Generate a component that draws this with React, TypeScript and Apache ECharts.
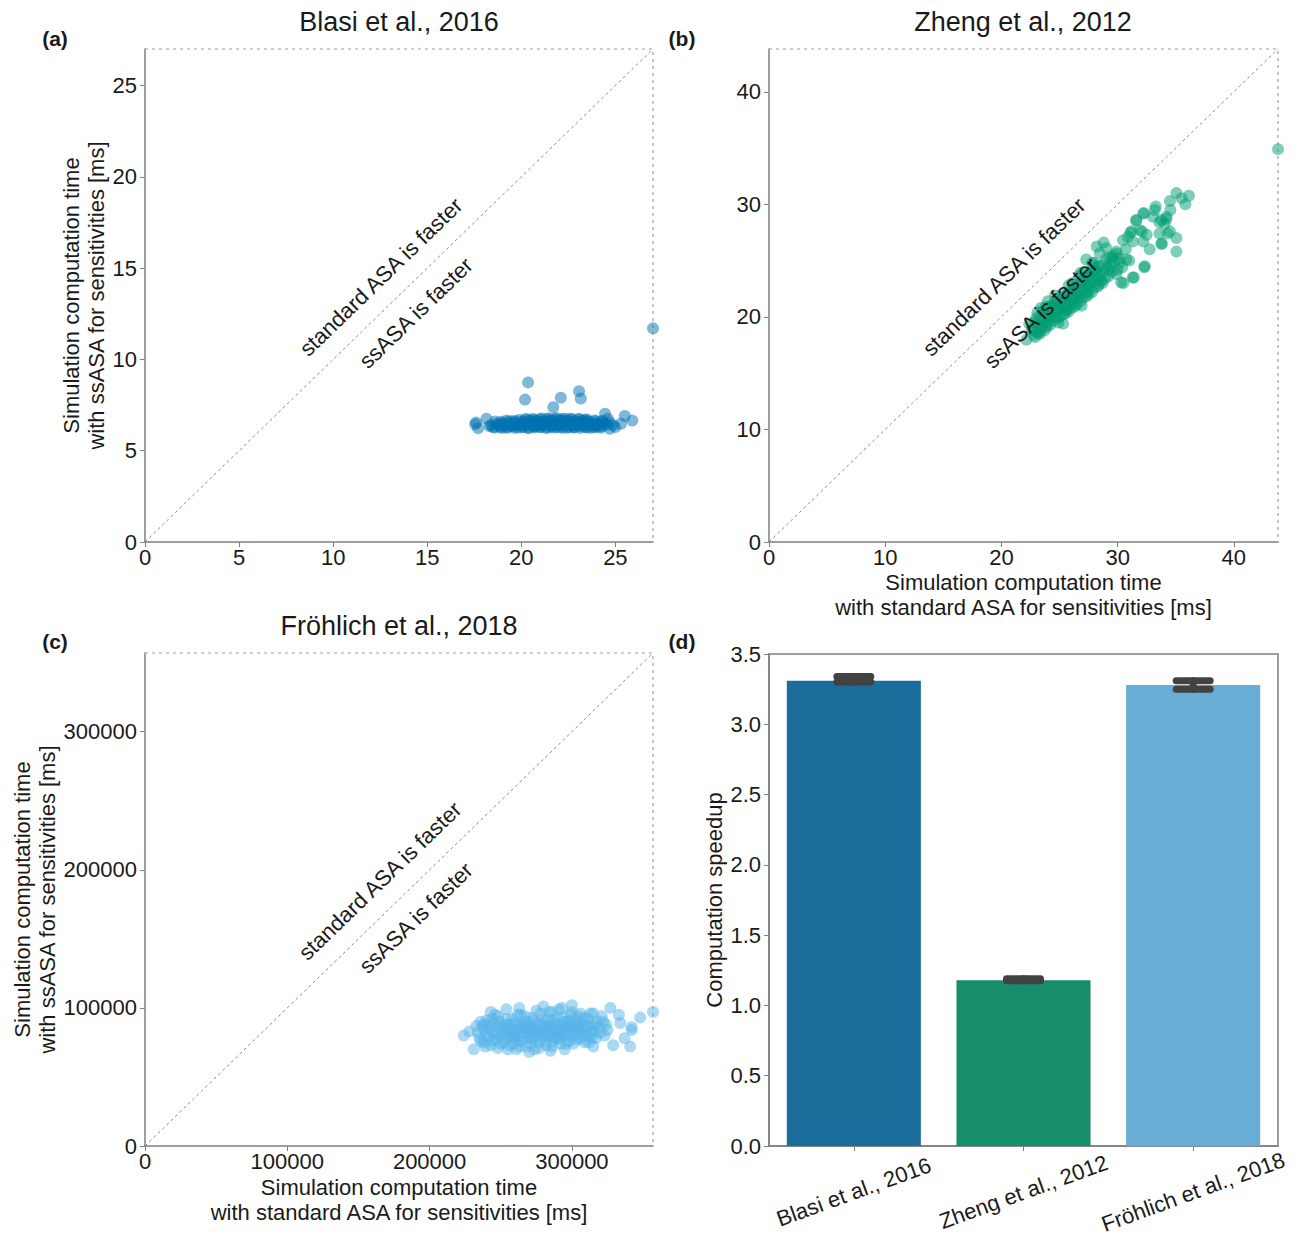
import React, { useEffect, useRef } from 'react';
import * as echarts from 'echarts';

const FONT = '"Liberation Sans", Arial, Helvetica, sans-serif';
const TEXT = '#1a1a1a';
const SPINE = '#7f7f7f';

// ---------- texts ----------
const studies = ['Blasi et al., 2016', 'Zheng et al., 2012', 'Fröhlich et al., 2018'];
const panelLabels = ['(a)', '(b)', '(c)', '(d)'];
const xTitle = 'Simulation computation time\nwith standard ASA for sensitivities [ms]';
const yTitle = 'Simulation computation time\nwith ssASA for sensitivities [ms]';
const speedupTitle = 'Computation speedup';
const upperText = 'standard ASA is faster';
const lowerText = 'ssASA is faster';

// ---------- axes ----------
const blasiMax = 27;
const zhengMax = 43.8;
const frohlichMax = 357000;
const blasiTicks = [0, 5, 10, 15, 20, 25];
const zhengTicks = [0, 10, 20, 30, 40];
const frohlichTicks = [0, 100000, 200000, 300000];

// ---------- colours ----------
const scatterColors = ['#0072B2', '#009E73', '#56B4E9'];
const barColors = ['#1b6d9c', '#178d6b', '#67add6'];

// ---------- panel (a): Blasi et al., 2016  [standard ASA ms, ssASA ms] ----------
const blasiPoints: number[][] = [
  [20.36, 8.74], [20.2, 7.8], [22.1, 7.9], [23.07, 8.26], [23.16, 7.86], [21.7, 7.38],
  [27.0, 11.7], [25.5, 6.9], [25.9, 6.65], [24.45, 7.02], [17.6, 6.54], [17.7, 6.23],
  [18.15, 6.75], [24.88, 6.4], [25.3, 6.48], [24.99, 6.29], [17.55, 6.45], [24.7, 6.2],
  [18.5, 6.28], [18.9, 6.31], [19.2, 6.25], [19.5, 6.33], [19.8, 6.27], [20.1, 6.3],
  [20.4, 6.24], [20.7, 6.32], [21.0, 6.29], [21.3, 6.26], [21.6, 6.31], [21.9, 6.28],
  [22.2, 6.25], [22.5, 6.3], [22.8, 6.27], [23.1, 6.33], [23.4, 6.29], [23.7, 6.26],
  [24.0, 6.3], [24.3, 6.32],
  [18.7, 6.48], [19.0, 6.52], [19.35, 6.46], [19.65, 6.55], [19.95, 6.5], [20.25, 6.53],
  [20.55, 6.47], [20.85, 6.56], [21.15, 6.51], [21.45, 6.49], [21.75, 6.57], [22.05, 6.52],
  [22.35, 6.54], [22.65, 6.48], [22.95, 6.55], [23.25, 6.5], [23.55, 6.53], [23.85, 6.47],
  [24.15, 6.51], [24.45, 6.49],
  [19.5, 6.62], [19.9, 6.68], [20.3, 6.72], [20.7, 6.7], [21.1, 6.76], [21.5, 6.74],
  [21.9, 6.78], [22.3, 6.75], [22.7, 6.72], [23.1, 6.74], [23.5, 6.7], [23.9, 6.66],
  [24.3, 6.64],
  [20.0, 6.4], [21.0, 6.42], [22.0, 6.4], [23.0, 6.42], [24.0, 6.4], [19.0, 6.38],
  [21.5, 6.62], [22.5, 6.64], [20.5, 6.62], [23.5, 6.6], [18.3, 6.35], [24.7, 6.55],
  [24.6, 6.75], [18.6, 6.6], [19.2, 6.65], [20.8, 6.38], [21.8, 6.44], [22.8, 6.38],
  [23.8, 6.42], [19.6, 6.42], [22.1, 6.66], [21.2, 6.6], [23.3, 6.62],
  [18.6, 6.27], [18.95, 6.25], [19.3, 6.29], [19.65, 6.26], [20.0, 6.28], [20.35, 6.25],
  [20.7, 6.27], [21.05, 6.3], [21.4, 6.25], [21.75, 6.27], [22.1, 6.29], [22.45, 6.26],
  [22.8, 6.28], [23.15, 6.25], [23.5, 6.27], [23.85, 6.29], [24.2, 6.26],
  [18.4, 6.4], [18.8, 6.42], [19.15, 6.38], [19.45, 6.41], [19.75, 6.39], [20.05, 6.43],
  [20.35, 6.4], [20.65, 6.37], [20.95, 6.42], [21.25, 6.4], [21.55, 6.38], [21.85, 6.41],
  [22.15, 6.43], [22.45, 6.39], [22.75, 6.4], [23.05, 6.42], [23.35, 6.38], [23.65, 6.41],
  [23.95, 6.39], [24.25, 6.4], [24.55, 6.42],
  [18.9, 6.58], [19.3, 6.6], [19.7, 6.62], [20.1, 6.59], [20.45, 6.61], [20.8, 6.63],
  [21.15, 6.6], [21.5, 6.62], [21.85, 6.64], [22.2, 6.61], [22.55, 6.63], [22.9, 6.6],
  [23.25, 6.62], [23.6, 6.59], [23.95, 6.61], [24.3, 6.58],
  [20.2, 6.72], [20.6, 6.74], [21.0, 6.73], [21.4, 6.76], [21.8, 6.75], [22.2, 6.73],
  [22.6, 6.75], [23.0, 6.72], [23.4, 6.71],
];

// ---------- panel (b): Zheng et al., 2012 ----------
const zhengPoints: number[][] = [
  [35.06, 31.0], [36.14, 30.76], [35.83, 30.0], [35.5, 30.55], [34.54, 29.5], [33.28, 29.8],
  [32.19, 29.2], [33.77, 28.6], [34.2, 28.9], [33.05, 28.9], [31.6, 28.56], [34.05, 28.3],
  [33.6, 27.4], [35.06, 27.0], [33.77, 26.5], [35.06, 25.8], [34.5, 27.6], [31.2, 27.6],
  [31.9, 27.7], [32.5, 27.3], [32.2, 26.7], [32.76, 26.0], [32.33, 24.5], [31.4, 23.5],
  [30.5, 23.0], [30.75, 25.1], [30.2, 24.8], [30.46, 26.8], [30.9, 27.1], [31.3, 26.7],
  [29.9, 25.8], [29.04, 26.1], [29.5, 25.2], [28.46, 25.66], [28.0, 24.8], [29.3, 24.2],
  [29.9, 23.8], [27.6, 23.9], [26.7, 23.6], [27.3, 22.7], [28.2, 23.3], [28.7, 23.0],
  [26.2, 22.7], [25.3, 22.1], [25.9, 21.5], [24.7, 21.2], [24.2, 20.9], [23.9, 20.0],
  [23.0, 19.4], [23.3, 18.5], [22.15, 17.96], [22.7, 18.8], [24.6, 20.0], [25.6, 20.6],
  [25.3, 19.4], [23.9, 19.1], [26.2, 21.2], [26.7, 21.8], [27.9, 24.5], [27.3, 25.1],
  [28.2, 26.25], [28.8, 26.6], [43.8, 34.9],
  [32.1, 27.6], [31.1, 27.5], [32.3, 24.4], [31.3, 23.5], [30.3, 23.05], [33.8, 26.5],
  [34.3, 27.4], [33.6, 28.4], [34.2, 28.7], [31.6, 28.6], [32.3, 29.2], [33.2, 29.5],
  [34.5, 30.3], [22.4, 19.4], [23.2, 18.6],
  [22.6, 18.9], [22.9, 19.6], [23.1, 18.6], [23.3, 19.9], [23.5, 19.1], [23.7, 20.4],
  [23.9, 19.3], [24.1, 20.1], [24.3, 21.0], [24.5, 19.7], [24.7, 20.5], [24.9, 21.5],
  [25.0, 20.0], [25.2, 20.9], [25.4, 21.8], [25.5, 20.3], [25.7, 21.2], [25.9, 22.2],
  [26.0, 20.8], [26.2, 21.7], [26.4, 22.6], [26.5, 21.1], [26.7, 22.1], [26.9, 23.1],
  [27.0, 21.7], [27.2, 22.6], [27.4, 23.6], [27.5, 22.0], [27.7, 23.0], [27.9, 24.0],
  [28.0, 22.6], [28.2, 23.5], [28.4, 24.5], [28.6, 23.2], [28.8, 24.1], [29.0, 25.1],
  [29.2, 23.6], [29.4, 24.6], [29.6, 25.4], [30.0, 24.2], [23.4, 20.8], [24.0, 21.4],
  [26.1, 23.0], [27.1, 24.0], [25.1, 21.1], [26.3, 21.9], [27.3, 22.9], [28.3, 23.9],
  [24.2, 20.2], [25.6, 20.7],
  [22.8, 18.4], [23.0, 19.9], [23.2, 19.2], [23.4, 18.9], [23.6, 19.8], [23.8, 20.9],
  [24.0, 19.6], [24.2, 19.3], [24.4, 20.4], [24.6, 21.3], [24.8, 19.9], [25.0, 20.6],
  [25.2, 21.6], [25.3, 20.2], [25.5, 21.0], [25.7, 22.0], [25.8, 20.5], [26.0, 21.4],
  [26.1, 22.4], [26.3, 20.9], [26.5, 22.0], [26.6, 22.9], [26.8, 21.4], [27.0, 22.3],
  [27.1, 23.3], [27.3, 21.8], [27.5, 22.7], [27.6, 23.7], [27.8, 22.2], [28.0, 23.2],
  [28.1, 24.2], [28.3, 22.7], [28.5, 23.6], [28.7, 24.6], [28.9, 23.4], [29.1, 24.4],
  [29.3, 25.3], [29.5, 24.0], [29.7, 24.9], [29.9, 25.6], [30.1, 25.2], [30.4, 24.4],
  [30.7, 26.0], [31.0, 25.0], [23.1, 20.4], [23.5, 20.5], [24.5, 20.8], [25.4, 21.3],
  [26.4, 21.6], [27.4, 22.2], [28.4, 22.9], [22.9, 18.2], [23.7, 18.8], [24.9, 19.5],
  [26.9, 21.0], [25.8, 22.8], [26.8, 23.9], [27.8, 24.8], [24.6, 21.9],
];

// ---------- panel (c): Fröhlich et al., 2018 (values in thousands of ms) ----------
const frohlichPointsK: number[][] = [
  [224, 80], [228, 83], [231, 70], [233, 87], [235, 78], [236, 90], [238, 75], [239, 84],
  [240, 80], [241, 88], [243, 73], [244, 92], [245, 82], [246, 77], [247, 86], [248, 71],
  [249, 90], [250, 80], [251, 84], [252, 75], [253, 88], [254, 99], [255, 81], [256, 73],
  [257, 85], [258, 92], [259, 78], [260, 83], [261, 70], [262, 88], [263, 80], [264, 95],
  [265, 76], [266, 85], [267, 90], [268, 72], [269, 82], [270, 87], [271, 78], [272, 93],
  [273, 84], [274, 70], [275, 80], [276, 89], [277, 75], [278, 96], [279, 83], [280, 79],
  [281, 88], [282, 73], [283, 92], [284, 85], [285, 80], [286, 97], [287, 76], [288, 88],
  [289, 83], [290, 93], [291, 78], [292, 86], [293, 100], [294, 81], [295, 90], [296, 74],
  [297, 87], [298, 82], [299, 95], [300, 79], [301, 88], [302, 84], [303, 92], [304, 77],
  [305, 86], [306, 96], [307, 81], [308, 89], [309, 75], [310, 85], [311, 92], [312, 80],
  [313, 87], [314, 78], [315, 96], [316, 83], [318, 90], [320, 82], [322, 90], [325, 84],
  [327, 100], [329, 73], [333, 95], [334, 89], [337, 78], [342, 86], [342, 84], [341, 72],
  [348, 93], [357, 97],
  [255, 85], [260, 79], [265, 88], [270, 83], [275, 86], [280, 84], [285, 88], [290, 84],
  [295, 85], [300, 86], [305, 82], [262, 76], [272, 78], [282, 80], [292, 80], [258, 82],
  [268, 86], [278, 82], [288, 79], [298, 90],
  [234, 82], [236, 76], [237, 86], [239, 72], [240, 91], [242, 79], [242, 85], [244, 76],
  [245, 89], [247, 81], [248, 94], [250, 74], [250, 87], [252, 83], [253, 78], [254, 92],
  [256, 88], [257, 79], [259, 74], [259, 89], [261, 84], [262, 95], [263, 72], [264, 86],
  [266, 79], [267, 94], [268, 81], [269, 89], [271, 74], [271, 85], [273, 91], [274, 78],
  [275, 98], [276, 83], [277, 71], [278, 88], [280, 92], [281, 76], [282, 86], [283, 81],
  [284, 97], [286, 72], [286, 84], [287, 91], [289, 78], [290, 88], [291, 99], [292, 74],
  [293, 84], [294, 93], [296, 80], [297, 90], [298, 76], [299, 86], [300, 97], [301, 74],
  [302, 81], [303, 88], [304, 94], [306, 78], [306, 90], [307, 85], [309, 93], [310, 80],
  [311, 87], [312, 75], [313, 96], [314, 83], [316, 88], [317, 78], [319, 86], [321, 94],
  [323, 80], [324, 88], [246, 95], [238, 88], [243, 97], [263, 100], [280, 101], [300, 102],
  [295, 70], [285, 69], [270, 68], [255, 70], [315, 72],
];
const frohlichPoints = frohlichPointsK.map(([x, y]) => [x * 1000, y * 1000]);

// ---------- panel (d): speedup ----------
const speedup = [3.31, 1.18, 3.28];
const speedupLow = [3.3, 1.175, 3.25];
const speedupHigh = [3.34, 1.19, 3.31];
const speedupTicks = [0, 0.5, 1, 1.5, 2, 2.5, 3, 3.5];

const grids = [
  { left: 145, top: 49, width: 508, height: 493 },
  { left: 769, top: 49, width: 509, height: 493 },
  { left: 145, top: 653, width: 508, height: 493 },
  { left: 769, top: 654, width: 509, height: 492 },
];

const labelStyle = { color: TEXT, fontSize: 22, fontFamily: FONT };
const nameStyle = { color: TEXT, fontSize: 22, fontFamily: FONT, lineHeight: 25 };

function valueAxis(idx: number, max: number, ticks: number[], isX: boolean, name: string, gap: number) {
  return {
    type: 'value',
    gridIndex: idx,
    min: 0,
    max,
    name,
    nameLocation: 'middle',
    nameGap: gap,
    nameTextStyle: nameStyle,
    axisLine: { show: true, onZero: false, lineStyle: { color: SPINE, width: 1.5 } },
    axisTick: { show: true, length: 5, customValues: ticks, lineStyle: { color: SPINE, width: 1 } },
    axisLabel: {
      ...labelStyle,
      customValues: ticks,
      margin: isX ? 4 : 8,
      formatter: (v: number) => String(v),
    },
    splitLine: { show: false },
  };
}

function scatterSeries(idx: number, pts: number[][], max: number) {
  return [
    {
      type: 'line',
      xAxisIndex: idx,
      yAxisIndex: idx,
      data: [[0, 0], [max, max]],
      symbol: 'none',
      clip: false,
      silent: true,
      lineStyle: { color: '#8c8c8c', width: 1, type: [3, 3] },
      z: 1,
    },
    {
      type: 'line',
      xAxisIndex: idx,
      yAxisIndex: idx,
      data: [[0, max], [max, max], [max, 0]],
      symbol: 'none',
      clip: false,
      silent: true,
      lineStyle: { color: '#a0a0a0', width: 1.2, type: [3, 4] },
      z: 1,
    },
    {
      type: 'scatter',
      xAxisIndex: idx,
      yAxisIndex: idx,
      data: pts,
      symbolSize: 12,
      clip: false,
      itemStyle: { color: scatterColors[idx], opacity: 0.5 },
      z: 2,
    },
  ];
}

function textEl(text: string, x: number, y: number, size: number, opts: any = {}) {
  return {
    type: 'text',
    x,
    y,
    z: 100,
    rotation: opts.rotation || 0,
    style: {
      text,
      fill: TEXT,
      fontSize: size,
      fontFamily: FONT,
      fontWeight: opts.bold ? 'bold' : 'normal',
      align: 'center',
      verticalAlign: 'middle',
    },
  };
}

function buildOption() {
  const rot = (44 * Math.PI) / 180;
  const annot = [
    [381, 277, 416, 313],
    [1004, 277, 1041, 313],
    [380, 881, 416, 918],
  ];
  const graphics: any[] = [
    textEl(studies[0], 399, 22, 27),
    textEl(studies[1], 1023, 22, 27),
    textEl(studies[2], 399, 626, 27),
    textEl(panelLabels[0], 55, 38, 21, { bold: true }),
    textEl(panelLabels[1], 682, 38, 21, { bold: true }),
    textEl(panelLabels[2], 55, 641, 21, { bold: true }),
    textEl(panelLabels[3], 682, 641, 21, { bold: true }),
  ];
  annot.forEach(([ux, uy, lx, ly]) => {
    graphics.push(textEl(upperText, ux, uy, 22, { rotation: rot }));
    graphics.push(textEl(lowerText, lx, ly, 22, { rotation: rot }));
  });

  return {
    animation: false,
    backgroundColor: '#ffffff',
    grid: grids.map((g, i) =>
      i === 3
        ? { ...g, show: true, borderColor: SPINE, borderWidth: 1.5, backgroundColor: 'transparent' }
        : { ...g }
    ),
    xAxis: [
      valueAxis(0, blasiMax, blasiTicks, true, '', 0),
      valueAxis(1, zhengMax, zhengTicks, true, xTitle, 27.5),
      valueAxis(2, frohlichMax, frohlichTicks, true, xTitle, 28.5),
      {
        type: 'category',
        gridIndex: 3,
        data: studies,
        axisLine: { show: true, lineStyle: { color: SPINE, width: 1.5 } },
        axisTick: { show: true, alignWithLabel: true, length: 5, lineStyle: { color: SPINE } },
        axisLabel: {
          ...labelStyle,
          interval: 0,
          rotate: 20,
          align: 'center',
          verticalAlign: 'middle',
          margin: 46,
        },
        splitLine: { show: false },
      },
    ],
    yAxis: [
      valueAxis(0, blasiMax, blasiTicks, false, yTitle, 35.5),
      valueAxis(1, zhengMax, zhengTicks, false, '', 0),
      valueAxis(2, frohlichMax, frohlichTicks, false, yTitle, 85.5),
      {
        type: 'value',
        gridIndex: 3,
        min: 0,
        max: 3.5,
        interval: 0.5,
        name: speedupTitle,
        nameLocation: 'middle',
        nameGap: 41,
        nameTextStyle: nameStyle,
        axisLine: { show: true, lineStyle: { color: SPINE, width: 1.5 } },
        axisTick: { show: true, length: 5, lineStyle: { color: SPINE } },
        axisLabel: { ...labelStyle, margin: 8, formatter: (v: number) => v.toFixed(1) },
        splitLine: { show: false },
      },
    ],
    series: [
      ...scatterSeries(0, blasiPoints, blasiMax),
      ...scatterSeries(1, zhengPoints, zhengMax),
      ...scatterSeries(2, frohlichPoints, frohlichMax),
      {
        type: 'bar',
        xAxisIndex: 3,
        yAxisIndex: 3,
        barCategoryGap: '21%',
        data: speedup.map((v, i) => ({ value: v, itemStyle: { color: barColors[i] } })),
        z: 2,
      },
      {
        type: 'custom',
        xAxisIndex: 3,
        yAxisIndex: 3,
        z: 5,
        data: speedup.map((_, i) => [i, speedupLow[i], speedupHigh[i]]),
        encode: { x: 0, y: [1, 2] },
        renderItem: (params: any, api: any) => {
          const lo = api.coord([api.value(0), api.value(1)]);
          const hi = api.coord([api.value(0), api.value(2)]);
          const half = 17;
          const st = { stroke: '#424242', lineWidth: 7, lineCap: 'round' };
          return {
            type: 'group',
            children: [
              { type: 'line', shape: { x1: lo[0], y1: lo[1], x2: hi[0], y2: hi[1] }, style: st },
              { type: 'line', shape: { x1: hi[0] - half, y1: hi[1], x2: hi[0] + half, y2: hi[1] }, style: st },
              { type: 'line', shape: { x1: lo[0] - half, y1: lo[1], x2: lo[0] + half, y2: lo[1] }, style: st },
            ],
          };
        },
      },
    ],
    graphic: graphics,
  };
}

export default function App() {
  const ref = useRef<HTMLDivElement>(null);
  useEffect(() => {
    document.body.style.margin = '0';
    const chart = echarts.init(ref.current as HTMLDivElement, null, { renderer: 'svg' });
    chart.setOption(buildOption() as any);
    return () => chart.dispose();
  }, []);
  return <div ref={ref} style={{ width: 1303, height: 1239 }} />;
}
